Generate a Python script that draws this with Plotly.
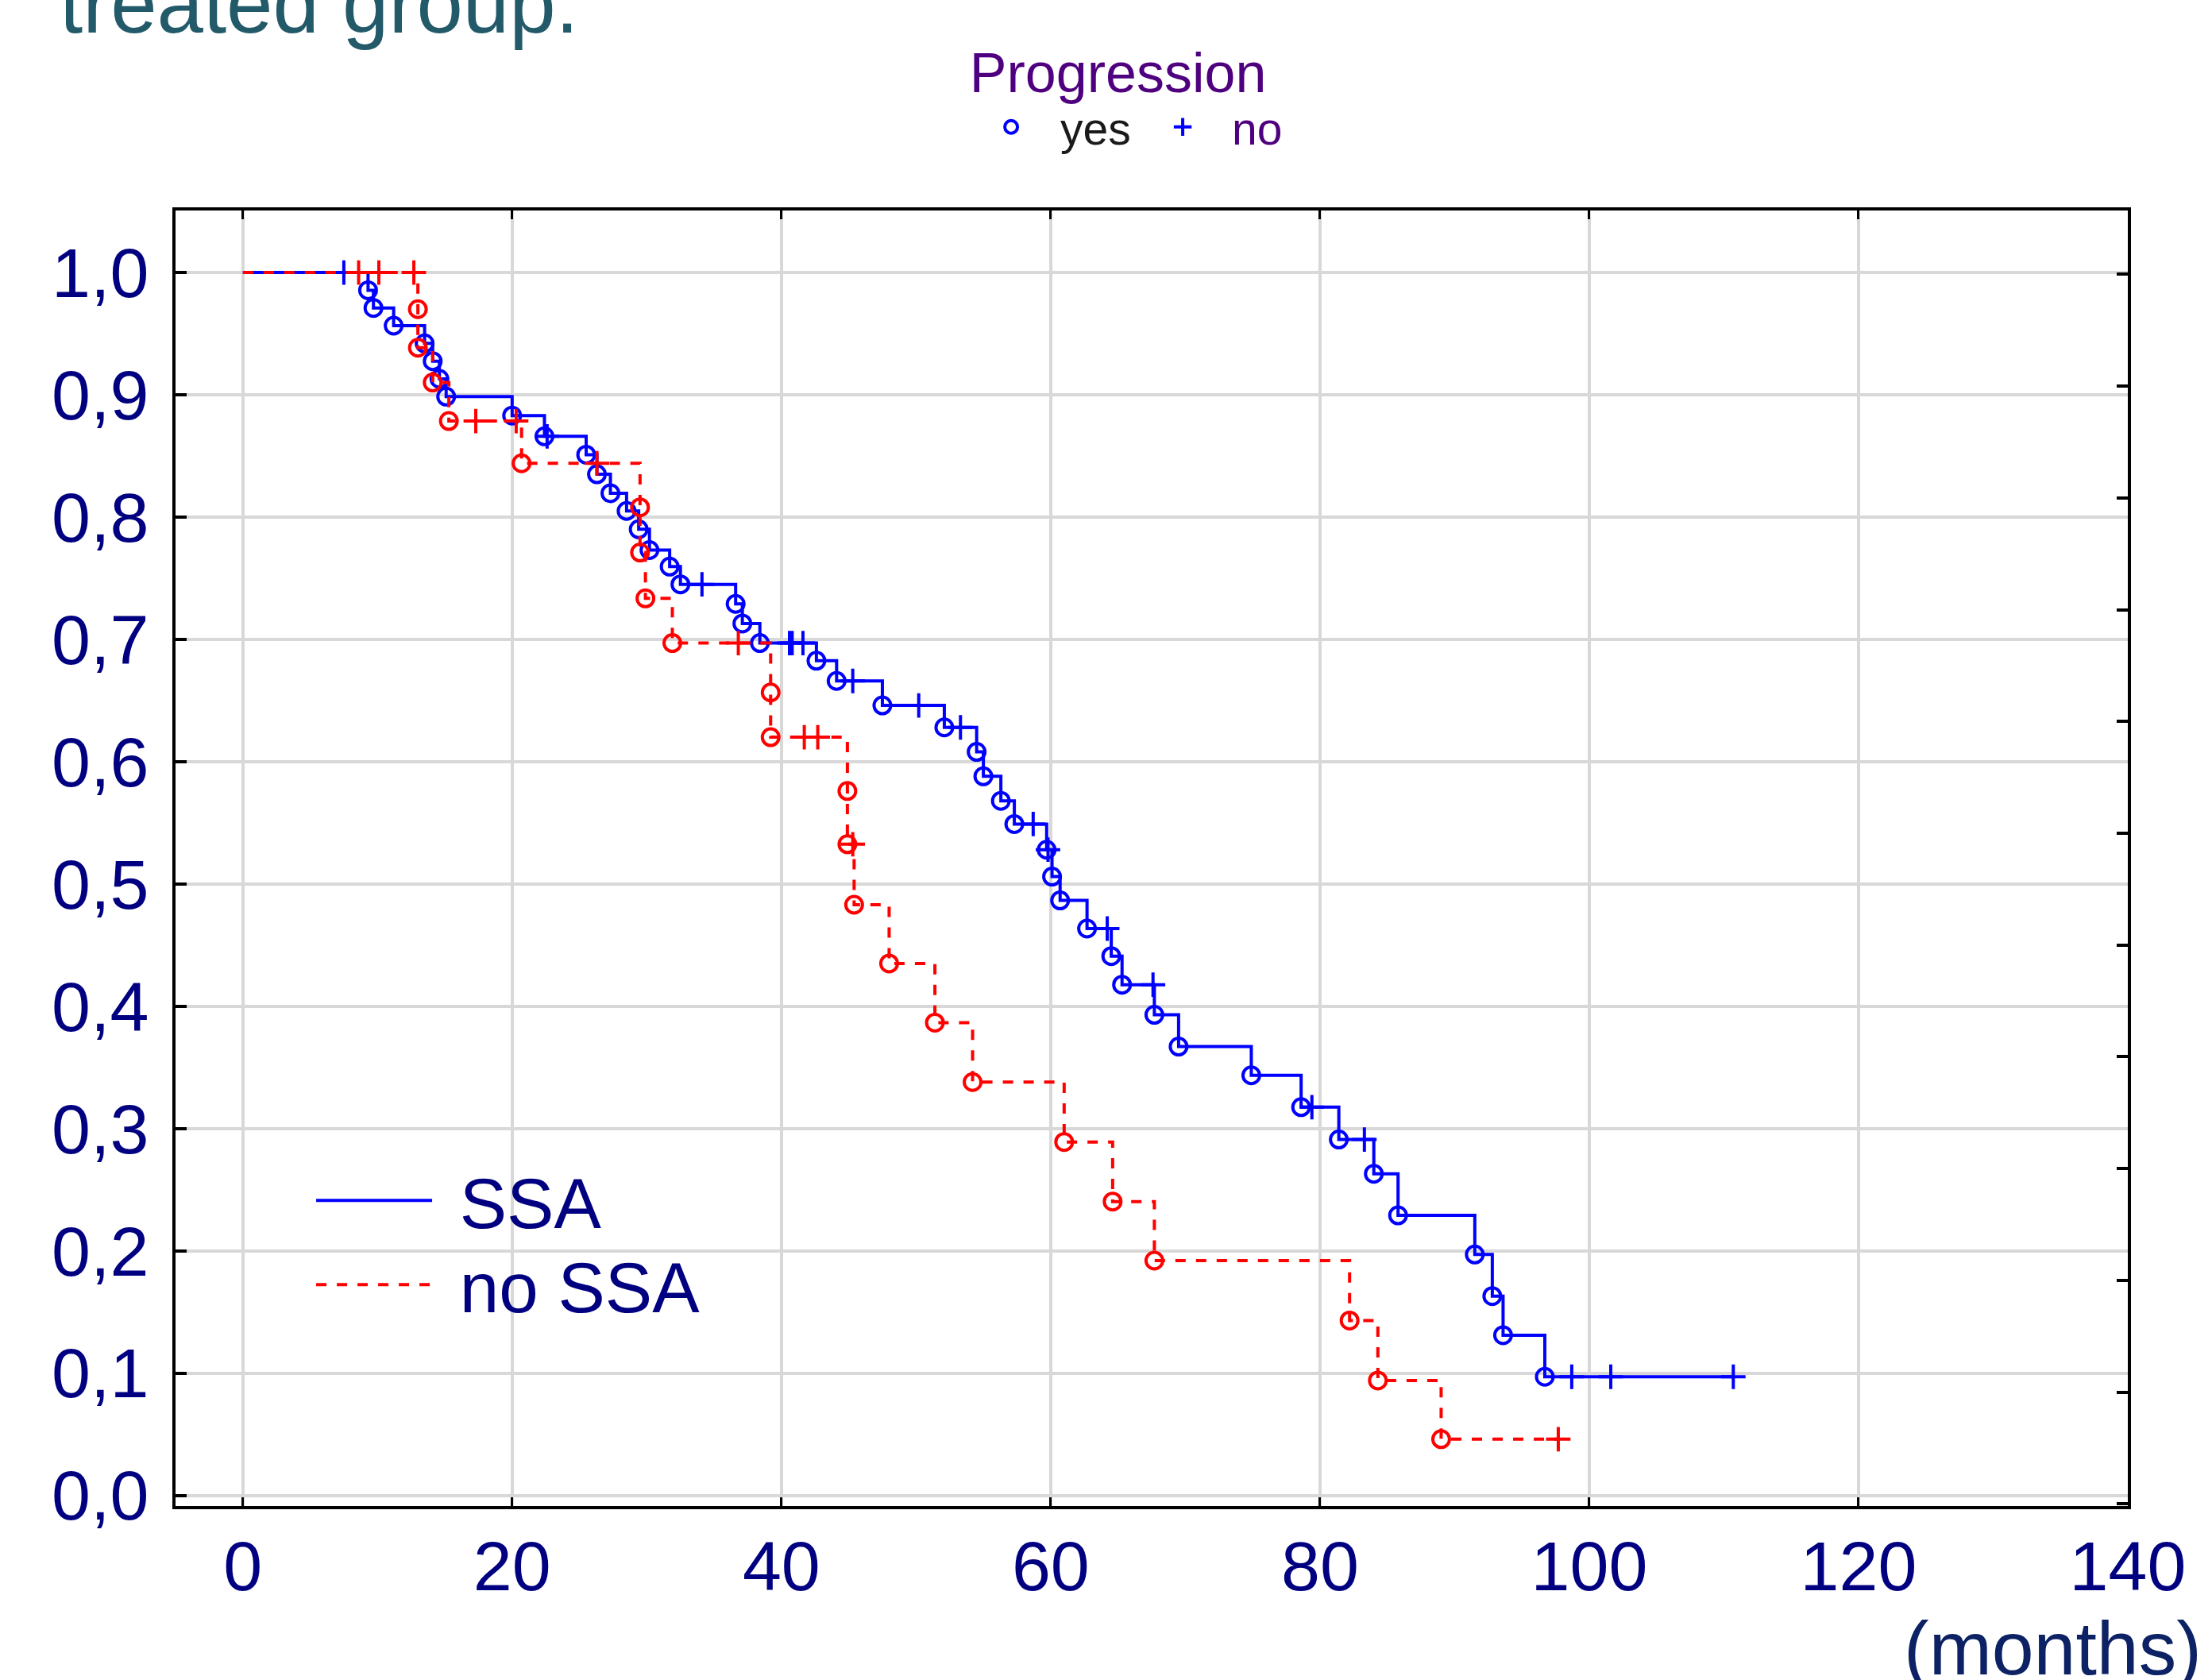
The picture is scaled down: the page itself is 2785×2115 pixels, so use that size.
import numpy as np
import plotly.graph_objects as go

# ---------------- data ----------------
# SSA group: event (progression) times in months and survival after each event
ssa_event_t = [9.3, 9.7, 11.2, 13.5, 14.1, 14.6, 15.1, 20.0, 22.4, 25.5, 26.3, 27.3, 28.5,
               29.4, 30.2, 31.7, 32.5, 36.6, 37.1, 38.4, 42.6, 44.1, 47.5, 52.1, 54.5, 55.0,
               56.3, 57.3, 59.7, 60.1, 60.7, 62.7, 64.5, 65.3, 67.7, 69.5, 74.9, 78.6, 81.4,
               84.0, 85.8, 91.5, 92.8, 93.6, 96.7]
ssa_event_s = [0.9855, 0.971, 0.9565, 0.942, 0.9275, 0.913, 0.8985, 0.883, 0.866, 0.851,
               0.835, 0.8195, 0.805, 0.790, 0.773, 0.7595, 0.745, 0.729, 0.713, 0.697,
               0.6825, 0.666, 0.646, 0.628, 0.608, 0.588, 0.568, 0.549, 0.528, 0.506,
               0.4865, 0.4635, 0.441, 0.4176, 0.393, 0.367, 0.3435, 0.3175, 0.291, 0.263,
               0.229, 0.197, 0.163, 0.131, 0.097]
ssa_cens_t = [7.5, 22.6, 34.1, 40.6, 40.8, 41.6, 45.3, 50.2, 53.3, 58.7, 59.8, 64.2, 67.6,
              79.4, 83.3, 98.7, 101.6, 110.7]

# no SSA group
nossa_event_t = [13.0, 13.0, 14.1, 15.3, 20.7, 29.5, 29.5, 29.9, 31.9, 39.2, 39.2, 44.9,
                 44.9, 45.4, 48.0, 51.4, 54.2, 61.0, 64.6, 67.7, 82.2, 84.3, 89.0]
nossa_event_s = [0.970, 0.9385, 0.910, 0.8785, 0.844, 0.808, 0.771, 0.7335, 0.697, 0.6566,
                 0.620, 0.576, 0.5325, 0.483, 0.435, 0.3866, 0.338, 0.289, 0.2403, 0.192,
                 0.143, 0.094, 0.046]
nossa_cens_t = [8.6, 10.1, 12.7, 17.3, 20.3, 26.3, 36.8, 41.7, 42.7, 45.3, 97.7]

x_ticks = [0, 20, 40, 60, 80, 100, 120, 140]
y_ticks = [0.0, 0.1, 0.2, 0.3, 0.4, 0.5, 0.6, 0.7, 0.8, 0.9, 1.0]

FONT = "Liberation Sans, Arial, sans-serif"
BLUE = "#0000FF"
RED = "#FF0000"
NAVY = "#000080"
PURPLE = "#4F007F"
GAP = "\u2004"  # small typographic space between legend line sample and label
NBSP = "\u00a0"


def step_at(ev_t, ev_s, t):
    ev_t = np.asarray(ev_t, float)
    ev_s = np.asarray(ev_s, float)
    idx = np.searchsorted(ev_t, np.asarray(t, float), side="right") - 1
    return np.where(idx >= 0, ev_s[np.clip(idx, 0, None)], 1.0)


def km_line(ev_t, ev_s, cens_t):
    end = max(max(ev_t), max(cens_t))
    xs = [0.0] + list(ev_t) + [end]
    ys = [1.0] + list(ev_s) + [ev_s[-1]]
    return xs, ys


fig = go.Figure()

# SSA
lx, ly = km_line(ssa_event_t, ssa_event_s, ssa_cens_t)
fig.add_trace(go.Scatter(x=lx, y=ly, mode="lines", name=GAP + "SSA", legend="legend2",
                         line=dict(color=BLUE, width=4, shape="hv"), hoverinfo="skip"))
fig.add_trace(go.Scatter(x=ssa_event_t, y=ssa_event_s, mode="markers",
                         name="<span style='color:#1a1a1a'>yes</span>", legend="legend",
                         marker=dict(symbol="circle-open", size=21, color=BLUE,
                                     line=dict(color=BLUE, width=4))))
fig.add_trace(go.Scatter(x=ssa_cens_t, y=step_at(ssa_event_t, ssa_event_s, ssa_cens_t),
                         mode="markers", name="no", legend="legend",
                         marker=dict(symbol="cross-thin", size=22, color=BLUE,
                                     line=dict(color=BLUE, width=4))))

# no SSA
lx, ly = km_line(nossa_event_t, nossa_event_s, nossa_cens_t)
fig.add_trace(go.Scatter(x=lx, y=ly, mode="lines", name=GAP + "no SSA", legend="legend3",
                         line=dict(color=RED, width=4, shape="hv", dash="13px,13px"),
                         hoverinfo="skip"))
fig.add_trace(go.Scatter(x=nossa_event_t, y=nossa_event_s, mode="markers", showlegend=False,
                         marker=dict(symbol="circle-open", size=21, color=RED,
                                     line=dict(color=RED, width=4))))
fig.add_trace(go.Scatter(x=nossa_cens_t, y=step_at(nossa_event_t, nossa_event_s, nossa_cens_t),
                         mode="markers", showlegend=False,
                         marker=dict(symbol="cross-thin", size=22, color=RED,
                                     line=dict(color=RED, width=4))))

# helper trace for the right-hand tick axis
fig.add_trace(go.Scatter(x=[None], y=[None], yaxis="y2", showlegend=False, hoverinfo="skip"))

YR = [-0.0087, 1.0507]
line_legend = dict(orientation="v", x=0.07, xanchor="left", yanchor="top",
                   bgcolor="rgba(0,0,0,0)", borderwidth=0,
                   font=dict(family=FONT, size=89, color=NAVY), itemwidth=146)

fig.update_layout(
    width=2785, height=2115,
    margin=dict(l=221, r=106, t=265, b=219, autoexpand=False),
    paper_bgcolor="white", plot_bgcolor="white",
    separators=",.",
    font=dict(family=FONT, color=NAVY),
    xaxis=dict(range=[-5, 140.0001], tickmode="array", tickvals=x_ticks,
               ticktext=[str(v) for v in x_ticks],
               showgrid=True, gridcolor="#D8D8D8", gridwidth=4, zeroline=False,
               showline=True, linecolor="black", linewidth=4, mirror="ticks",
               ticks="inside", ticklen=11, tickwidth=3, tickcolor="black",
               tickfont=dict(family=FONT, size=88, color=NAVY), ticklabelstandoff=-4),
    yaxis=dict(range=YR, tickmode="array", tickvals=y_ticks, tickformat=".1f",
               showgrid=True, gridcolor="#D8D8D8", gridwidth=4, zeroline=False,
               showline=True, linecolor="black", linewidth=4, mirror=True,
               ticks="inside", ticklen=14, tickwidth=4, tickcolor="black",
               tickfont=dict(family=FONT, size=88, color=NAVY), ticklabelstandoff=12),
    yaxis2=dict(range=YR, overlaying="y", side="right", tickmode="linear",
                tick0=0.0845, dtick=0.0914, showticklabels=False, showgrid=False,
                zeroline=False, showline=False, ticks="inside", ticklen=14, tickwidth=4,
                tickcolor="black"),
    legend=dict(orientation="h", x=0.4028, xanchor="left", y=1.147, yanchor="top",
                bgcolor="rgba(0,0,0,0)", borderwidth=0,
                title=dict(text="Progression" + NBSP * 2, side="top center",
                           font=dict(family=FONT, size=70, color=PURPLE)),
                font=dict(family=FONT, size=57, color=PURPLE),
                entrywidth=87, entrywidthmode="pixels", itemwidth=114),
    legend2=dict(line_legend, y=0.2754),
    legend3=dict(line_legend, y=0.2104),
    annotations=[
        dict(text="treated group.", xref="paper", yref="paper", x=-0.0602, y=1.1598,
             xanchor="left", yanchor="middle", showarrow=False,
             font=dict(family=FONT, size=105, color="#235A69")),
        dict(text="(months)", xref="paper", yref="paper", x=1.0386, y=-0.1097,
             xanchor="right", yanchor="middle", showarrow=False,
             font=dict(family=FONT, size=95, color="#0C2264")),
    ],
)

fig.write_html("out.html", config={"displayModeBar": False},
               post_script="document.body.style.margin='0';document.body.style.overflow='hidden';")
